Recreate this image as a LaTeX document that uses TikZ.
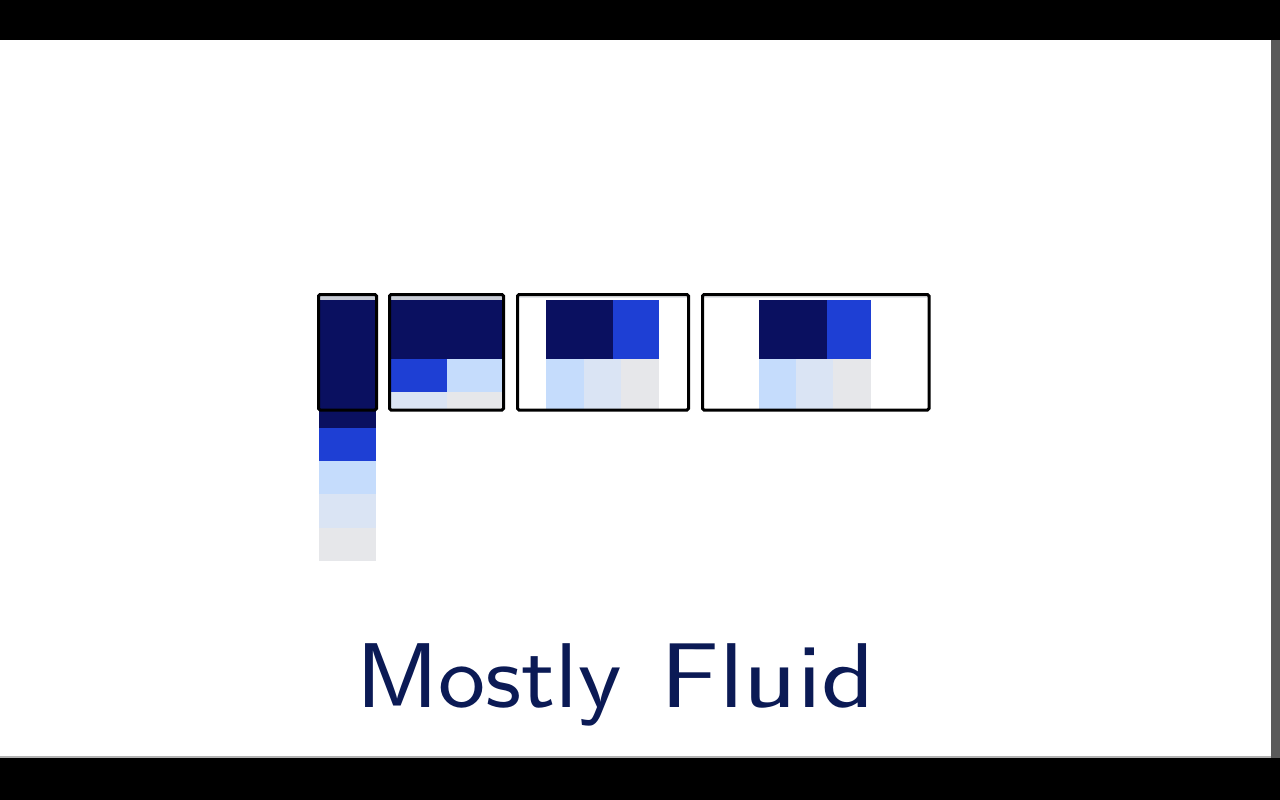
\documentclass[tikz,border=0pt]{standalone}
\usepackage{fontspec}
\begin{document}
\begin{tikzpicture}[x=1pt,y=-1pt,
  frame/.style={draw=black,line width=3pt,rounded corners=1.5pt},
  navy/.style={fill=navyc},
  bluec/.style={fill=blueb},
  lb/.style={fill=lightb},
  lr/.style={fill=lighter},
  gr/.style={fill=grayc},
  strip/.style={fill=stripc},
  word/.style={anchor=base west,inner sep=0pt,text=inkc,font=\sffamily\fontsize{92}{100}\selectfont}]
\definecolor{navyc}{HTML}{0A1060}
\definecolor{blueb}{HTML}{1E3FD4}
\definecolor{lightb}{HTML}{C5DCFC}
\definecolor{lighter}{HTML}{DAE4F4}
\definecolor{grayc}{HTML}{E6E7EA}
\definecolor{stripc}{HTML}{C8CCD6}
\definecolor{inkc}{HTML}{0B1A55}
\definecolor{edgec}{HTML}{5A5A5A}
\useasboundingbox (0,0) rectangle (1280,800);
\fill[white] (0,0) rectangle (1280,800);
\fill[black] (0,0) rectangle (1280,40);
\fill[black] (0,758) rectangle (1280,800);
\fill[edgec] (1271,40) rectangle (1280,758);
\fill[gray!60] (0,756) rectangle (1271,758);
% frame 1 column
\path[navy] (319,300) rectangle (376,428);
\path[bluec] (319,428) rectangle (376,461);
\path[lb] (319,461) rectangle (376,494);
\path[lr] (319,494) rectangle (376,528);
\path[gr] (319,528) rectangle (376,561);
\path[strip] (320,296) rectangle (375,300);
\draw[frame] (318.5,294.5) rectangle (376.5,410);
% frame 2
\path[strip] (391,296) rectangle (502,300);
\path[navy] (391,300) rectangle (502,359);
\path[bluec] (391,359) rectangle (447,392);
\path[lb] (447,359) rectangle (502,392);
\path[lr] (391,392) rectangle (447,409);
\path[gr] (447,392) rectangle (502,409);
\draw[frame] (389.5,294.5) rectangle (503.5,410);
% frame 3
\path[fill=grayc] (519,296) rectangle (687,298);
\path[navy] (546,300) rectangle (613,359);
\path[bluec] (613,300) rectangle (659,359);
\path[lb] (546,359) rectangle (584,409);
\path[lr] (584,359) rectangle (621,409);
\path[gr] (621,359) rectangle (659,409);
\draw[frame] (517.5,294.5) rectangle (688.5,410);
% frame 4
\path[fill=grayc] (704,296) rectangle (928,298);
\path[navy] (759,300) rectangle (827,359);
\path[bluec] (827,300) rectangle (871,359);
\path[lb] (759,359) rectangle (796,409);
\path[lr] (796,359) rectangle (833,409);
\path[gr] (833,359) rectangle (871,409);
\draw[frame] (702.5,294.5) rectangle (929,410);
% title
\node[word] (w1) at (356,707) {\scalebox{1.09}[1]{Mostly}};
\node[word] (w2) at (660,707) {\scalebox{1.2}[1]{Fluid}};
\end{tikzpicture}
\end{document}
